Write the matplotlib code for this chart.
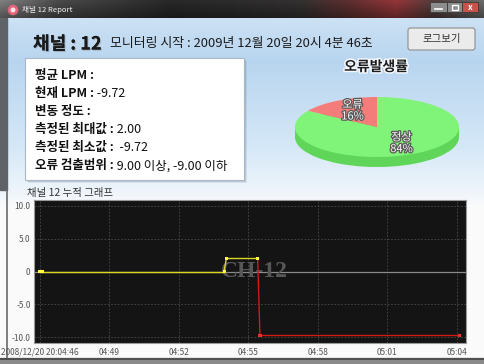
"""
report_ch12.py
Channel 12 report window: header, LPM summary box, error-rate pie and the
cumulative LPM graph of the monitoring run.

Run:  python plot.py   ->  out.png
"""

import datetime as dt
import numpy as np
import matplotlib
matplotlib.use("Agg")
import matplotlib.pyplot as plt
import matplotlib.dates as mdates
import matplotlib.patheffects as pe
from matplotlib.patches import Rectangle, FancyBboxPatch, Circle

plt.rcParams["font.family"] = ["Noto Sans CJK KR", "DejaVu Sans"]

# =========================================================================
#  Data
# =========================================================================
sWinTitle = "채널 12 Report"
sChannel = "채널 : 12"
sStart = "모니터링 시작 : 2009년 12월 20일 20시 4분 46초"
sLogButton = "로그보기"

cInfoLabels = ["평균 LPM :", "현재 LPM :", "변동 정도 :",
               "측정된 최대값 :", "측정된 최소값 :", "오류 검출범위 :"]
cInfoValues = ["", "-9.72", "", "2.00", " -9.72", "9.00 이상, -9.00 이하"]

sPieTitle = "오류발생률"
cPieNames = ["오류", "정상"]
vPiePct = [16, 84]

sGraphTitle = "채널 12 누적 그래프"
sWatermark = "CH-12"
sDate = "2008-12-20"
cSampleTimes = ["20:04:46.00", "20:04:46.10", "20:04:53.95", "20:04:54.05",
                "20:04:55.40", "20:04:55.50", "20:05:04.13"]
vLPM = [0.0, 0.0, 0.0, 2.00, 2.00, -9.72, -9.72]
dErrHi, dErrLo = 9.00, -9.00

cTickTimes = ["20:04:46", "20:04:49", "20:04:52", "20:04:55",
              "20:04:58", "20:05:01", "20:05:04"]
cTickLabels = ["2008/12/20 20:04:46", "04:49", "04:52", "04:55",
               "04:58", "05:01", "05:04"]
vYTicks = [10, 5, 0, -5, -10]
cYTickLabels = ["10.0", "5.0", "0", "-5.0", "-10.0"]

# =========================================================================
#  Window chrome (pixel coordinates, y downwards)
# =========================================================================
W, H = 484, 364
fig = plt.figure(figsize=(W / 100, H / 100), dpi=100)
axBg = fig.add_axes([0, 0, 1, 1])
axBg.set_axis_off()


def vgrad(stops, n):
    """n x 1 x 3 colour column from (pos, rgb) stops"""
    pos = [s[0] for s in stops]
    col = np.array([s[1] for s in stops], float) / 255
    yy = np.linspace(0, 1, n)
    return np.stack([np.interp(yy, pos, col[:, k]) for k in range(3)], axis=-1)[:, None, :]


# title bar: dark glass with a reddish band towards the buttons
xx = np.linspace(0, 1, W)
hpos = [0, 0.12, 0.35, 0.62, 0.72, 0.82, 0.9, 1]
hcol = np.array([[95, 95, 95], [55, 55, 55], [30, 30, 30], [38, 36, 36],
                 [70, 35, 35], [110, 40, 42], [60, 45, 45], [80, 80, 80]], float) / 255
mTitle = np.stack([np.interp(xx, hpos, hcol[:, k]) for k in range(3)], axis=-1)
vShade = np.linspace(1.35, 0.85, 18)[:, None, None]
mTitle = np.clip(mTitle[None, :, :] * vShade, 0, 1)
axBg.imshow(mTitle, extent=(0, W, 18, 0), aspect="auto", zorder=0)

# light blue client area and white graph panel
axBg.imshow(vgrad([(0, (204, 225, 244)), (0.25, (184, 213, 239)),
                   (0.75, (212, 231, 247)), (1, (236, 244, 251))], 100),
            extent=(0, W, 188, 18), aspect="auto", zorder=0)
axBg.imshow(vgrad([(0, (236, 243, 250)), (0.1, (250, 251, 252)), (1, (250, 250, 250))], 100),
            extent=(0, W, 359, 188), aspect="auto", zorder=0)
axBg.add_patch(Rectangle((0, 18), 7, 172, color="#5f6266", zorder=1))
axBg.plot([6.5, 6.5], [190, 359], color="#6a6a6a", lw=1.2, zorder=1)
axBg.add_patch(Rectangle((0, 358), W, 6, color="#8a8a8a", zorder=1))
axBg.plot([0, W], [358.5, 358.5], color="#444444", lw=1.2, zorder=1)

# title bar icon, caption and buttons
axBg.add_patch(Circle((13, 10), 4.6, color="#e2657a", zorder=2))
axBg.add_patch(Circle((13, 10), 1.8, color="#fbe3e8", zorder=3))
axBg.text(22, 10, sWinTitle, fontsize=5.5, color="#f2f2f2", va="center", zorder=3)
axBg.add_patch(Rectangle((430, 2), 17, 10, facecolor="#8d8d8d", edgecolor="#3a3a3a", lw=0.6, zorder=2))
axBg.plot([435, 442], [9, 9], color="white", lw=1.2, zorder=3)
axBg.add_patch(Rectangle((447, 2), 15, 10, facecolor="#8d8d8d", edgecolor="#3a3a3a", lw=0.6, zorder=2))
axBg.add_patch(Rectangle((451.5, 4.5), 6, 5, facecolor="none", edgecolor="white", lw=1.0, zorder=3))
axBg.add_patch(Rectangle((462, 2), 16, 10, facecolor="#c9524a", edgecolor="#3a3a3a", lw=0.6, zorder=2))
axBg.text(470, 7, "x", fontsize=6, color="white", ha="center", va="center", weight="bold", zorder=3)

# header line
axBg.text(33, 44, sChannel, fontsize=13, weight="bold", color="#1a1a1a", va="center",
          path_effects=[pe.withSimplePatchShadow(offset=(0.8, -0.8), shadow_rgbFace="#9aa8b8", alpha=0.8),
                        pe.Normal()])
axBg.text(110, 44, sStart, fontsize=9.3, color="#1a1a1a", va="center")

axBg.add_patch(FancyBboxPatch((408, 28), 67, 22, boxstyle="round,pad=0,rounding_size=2.5",
                              facecolor="#ebebeb", edgecolor="#8c8c8c", lw=0.8, zorder=2))
axBg.text(441.5, 39, sLogButton, fontsize=7.5, color="#333333", ha="center", va="center", zorder=3)

# =========================================================================
#  Summary box
# =========================================================================
for k, a in enumerate([0.10, 0.14, 0.22]):
    off = 3 - k
    axBg.add_patch(Rectangle((25 + off, 58 + off), 219, 122, color="#34485e", alpha=a, lw=0, zorder=2))
axBg.add_patch(Rectangle((25, 58), 219, 122, facecolor="white", edgecolor="#a9b6c4", lw=0.8, zorder=3))

for i, (sLab, sVal) in enumerate(zip(cInfoLabels, cInfoValues)):
    tLab = axBg.text(35, 75 + 18.2 * i, sLab, fontsize=9, weight="bold", color="#111111",
                     va="center", zorder=4)
    if sVal:
        axBg.annotate(" " + sVal, xy=(1, 0.5), xycoords=tLab, fontsize=9, color="#111111",
                      ha="left", va="center", zorder=4)

# =========================================================================
#  Error-rate pie (tilted, with a front rim)
# =========================================================================
axBg.text(376, 67, sPieTitle, fontsize=10, weight="bold", color="#1d1d1d", ha="center", va="center",
          path_effects=[pe.withStroke(linewidth=2.2, foreground="#f4f8fc")], zorder=4)

dDepth = 10 / 30
axPie = fig.add_axes([295 / W, (H - 167) / H, 164 / W, 70 / H])
axPie.pie(vPiePct, colors=["#c95f5f", "#5fd65a"], startangle=90, radius=1,
          center=(0, -dDepth), wedgeprops=dict(linewidth=0))
axPie.add_patch(Rectangle((-1, -dDepth), 2, dDepth, color="#5fd65a", lw=0))
axPie.pie(vPiePct, colors=["#f47d7b", "#80f478"], startangle=90, radius=1,
          labels=[f"{n}\n{p}%" for n, p in zip(cPieNames, vPiePct)], labeldistance=0.62,
          wedgeprops=dict(linewidth=0),
          textprops=dict(fontsize=8, color="#f6f6f6", ha="center", va="center",
                         path_effects=[pe.withStroke(linewidth=1.8, foreground="#5a5a5a")]))
axPie.set_aspect("auto")
axPie.set_xlim(-1, 1)
axPie.set_ylim(-1 - dDepth, 1)
axPie.set_axis_off()

# =========================================================================
#  Cumulative graph
# =========================================================================
axBg.text(27, 193, sGraphTitle, fontsize=7.5, color="#333333", va="center")

vT = [dt.datetime.strptime(f"{sDate} {s}", "%Y-%m-%d %H:%M:%S.%f") for s in cSampleTimes]
vTick = [dt.datetime.strptime(f"{sDate} {s}", "%Y-%m-%d %H:%M:%S") for s in cTickTimes]

ax = fig.add_axes([34 / W, (H - 343) / H, 432 / W, 143 / H])
ax.set_facecolor("#141414")
ax.axhline(0, color="#8a8a8a", lw=0.9, zorder=1)
for t in vTick:
    ax.axvline(t, color="#4b4b4b", lw=0.6, ls=(0, (2, 2)), zorder=0.5)
for y in vYTicks:
    if y != 0:
        ax.axhline(y, color="#4b4b4b", lw=0.6, ls=(0, (2, 2)), zorder=0.5)

ax.text(0.509, 0.5, sWatermark, transform=ax.transAxes, fontsize=17, weight="bold",
        family="Liberation Serif", color="#575757", ha="center", va="center", zorder=1.5)

def is_err(v):
    return v >= dErrHi or v <= dErrLo

for i in range(len(vT) - 1):
    sCol = "#d01a1a" if is_err(vLPM[i + 1]) else "#d8d820"
    ax.plot(vT[i:i + 2], vLPM[i:i + 2], color=sCol, lw=1.0, zorder=3)
ax.scatter(vT, vLPM, marker="s", s=5, linewidths=0, zorder=4,
           c=["#e83030" if is_err(v) else "#ffff3a" for v in vLPM])

ax.set_xlim(vTick[0] - dt.timedelta(seconds=0.26), vTick[-1] + dt.timedelta(seconds=0.40))
ax.set_ylim(-10.9, 10.9)
ax.set_xticks(mdates.date2num(vTick))
ax.set_xticklabels(cTickLabels)
ax.set_yticks(vYTicks)
ax.set_yticklabels(cYTickLabels)
ax.tick_params(length=0, labelsize=6, labelcolor="#555555")
ax.tick_params(axis="x", pad=3.5)
ax.tick_params(axis="y", pad=2.5)
for sp in ax.spines.values():
    sp.set_color("#9a9a9a")
    sp.set_linewidth(0.8)

axBg.set_xlim(0, W)
axBg.set_ylim(H, 0)

fig.savefig("out.png", dpi=100)
